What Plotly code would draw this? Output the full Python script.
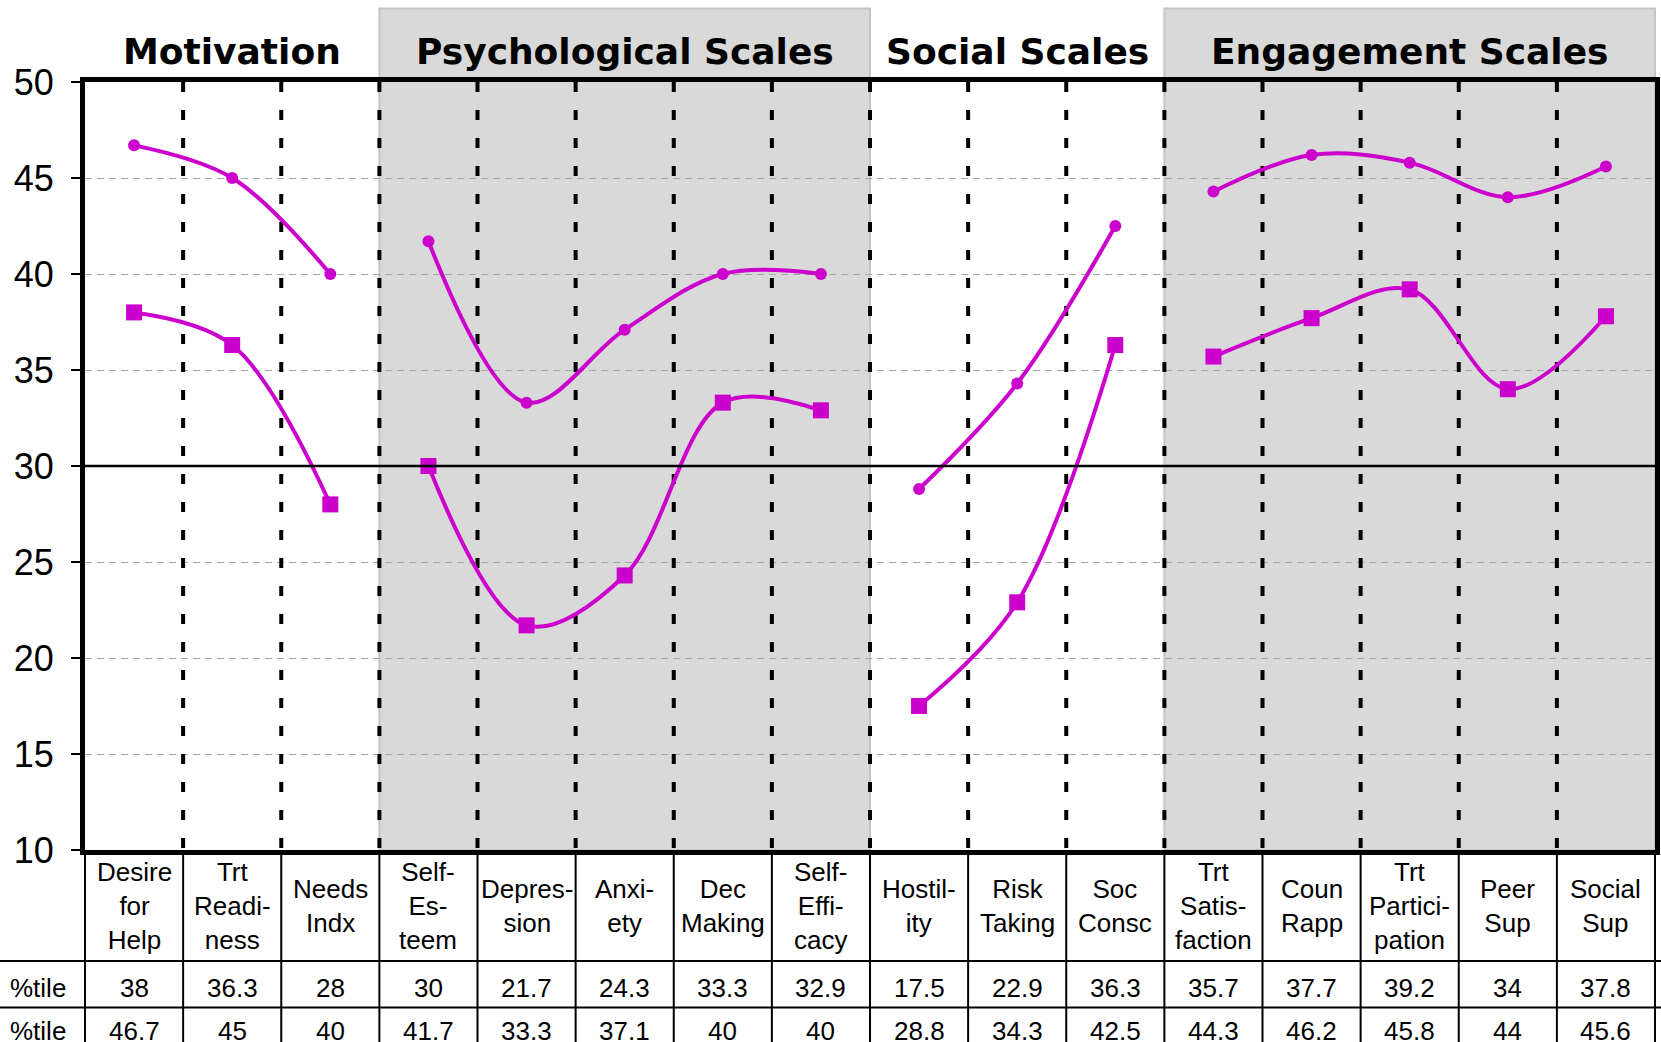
import plotly.graph_objects as go

# ---------------- data ----------------
categories = ["Desire for Help", "Trt Readiness", "Needs Indx", "Self-Esteem", "Depression",
              "Anxiety", "Dec Making", "Self-Efficacy", "Hostility", "Risk Taking", "Soc Consc",
              "Trt Satisfaction", "Coun Rapp", "Trt Participation", "Peer Sup", "Social Sup"]
header_labels = ["Desire<br>for<br>Help", "Trt<br>Readi-<br>ness", "Needs<br>Indx",
                 "Self-<br>Es-<br>teem", "Depres-<br>sion", "Anxi-<br>ety", "Dec<br>Making",
                 "Self-<br>Effi-<br>cacy", "Hostil-<br>ity", "Risk<br>Taking", "Soc<br>Consc",
                 "Trt<br>Satis-<br>faction", "Coun<br>Rapp", "Trt<br>Partici-<br>pation",
                 "Peer<br>Sup", "Social<br>Sup"]
low_vals = [38, 36.3, 28, 30, 21.7, 24.3, 33.3, 32.9, 17.5, 22.9, 36.3, 35.7, 37.7, 39.2, 34, 37.8]
high_vals = [46.7, 45, 40, 41.7, 33.3, 37.1, 40, 40, 28.8, 34.3, 42.5, 44.3, 46.2, 45.8, 44, 45.6]
groups = ["Motivation", "Psychological Scales", "Social Scales", "Engagement Scales"]
group_sizes = [3, 5, 3, 5]
group_shaded = [False, True, False, True]
row_labels = ["%tile", "%tile"]
y_ticks = [10, 15, 20, 25, 30, 35, 40, 45, 50]

# ---------------- layout geometry ----------------
W, H = 1661, 1042
ML, MR, MT, MB = 85, 6, 82, 192
PW, PH = W - ML - MR, H - MT - MB
N = len(categories)
XR = [0.5, N + 0.5]
MAG = "#CC00CC"
TFONT = "Liberation Sans, Arial, sans-serif"


def py(ypix):
    return (H - MB - ypix) / PH


def pxp(xpix):
    return (xpix - ML) / PW


def xv2p(v):
    return (v - XR[0]) / (XR[1] - XR[0])


xs = list(range(1, N + 1))


def with_gaps(vals):
    gx, gy = [], []
    start = 0
    for k, size in enumerate(group_sizes):
        if k > 0:
            gx.append(None)
            gy.append(None)
        gx += xs[start:start + size]
        gy += vals[start:start + size]
        start += size
    return gx, gy


fig = go.Figure()
lx, ly = with_gaps(low_vals)
hx, hy = with_gaps(high_vals)
fig.add_trace(go.Scatter(x=lx, y=ly, mode="lines+markers", connectgaps=False,
                         line=dict(color=MAG, width=4, shape="spline", smoothing=1.0),
                         marker=dict(symbol="square", size=16, color=MAG), showlegend=False))
fig.add_trace(go.Scatter(x=hx, y=hy, mode="lines+markers", connectgaps=False,
                         line=dict(color=MAG, width=4, shape="spline", smoothing=1.0),
                         marker=dict(symbol="circle", size=12, color=MAG), showlegend=False))

shapes = []
annotations = []

# group shading + titles
start = 1
for name, size, sh in zip(groups, group_sizes, group_shaded):
    end = start + size - 1
    if sh:
        shapes.append(dict(type="rect", xref="paper", yref="paper",
                           x0=xv2p(start - 0.5), x1=xv2p(end + 0.5), y0=0, y1=py(8.5),
                           fillcolor="#D9D9D9", line=dict(color="#C4C4C4", width=2), layer="below"))
    annotations.append(dict(text="<b>" + name + "</b>", xref="x", yref="paper",
                            x=(start + end) / 2, y=py(51), showarrow=False,
                            xanchor="center", yanchor="middle",
                            font=dict(family="DejaVu Sans, Verdana, sans-serif", size=36, color="black")))
    start = end + 1

# dotted vertical separators
for i in range(1, N):
    shapes.append(dict(type="line", xref="x", yref="y", x0=i + 0.5, x1=i + 0.5, y0=50, y1=10,
                       line=dict(color="black", width=4, dash="10px,18px"), layer="between"))

# solid reference line at 30
shapes.append(dict(type="line", xref="paper", yref="y", x0=0, x1=1, y0=30, y1=30,
                   line=dict(color="black", width=2.5), layer="above"))

# ---------------- table ----------------
row_tops = [961, 1007.5]
for yl in row_tops:
    shapes.append(dict(type="line", xref="paper", yref="paper", x0=pxp(0), x1=pxp(W),
                       y0=py(yl), y1=py(yl), line=dict(color="black", width=2)))
for i in range(N + 1):
    xp = xv2p(i + 0.5)
    shapes.append(dict(type="line", xref="paper", yref="paper", x0=xp, x1=xp,
                       y0=py(850), y1=py(H + 10), line=dict(color="black", width=2)))

for i, lab in enumerate(header_labels):
    annotations.append(dict(text=lab, xref="x", yref="paper", x=xs[i], y=py(906),
                            showarrow=False, xanchor="center", yanchor="middle", align="center",
                            font=dict(family=TFONT, size=26, color="black")))
row_centers = [988, 1031]
for vals, yc, rl in zip([low_vals, high_vals], row_centers, row_labels):
    annotations.append(dict(text=rl, xref="paper", yref="paper", x=pxp(8), y=py(yc),
                            showarrow=False, xanchor="left", yanchor="middle",
                            font=dict(family=TFONT, size=26, color="black")))
    for i, v in enumerate(vals):
        annotations.append(dict(text=f"{v:g}", xref="x", yref="paper", x=xs[i], y=py(yc),
                                showarrow=False, xanchor="center", yanchor="middle",
                                font=dict(family=TFONT, size=26, color="black")))

fig.update_layout(
    width=W, height=H,
    margin=dict(l=ML, r=MR, t=MT, b=MB, autoexpand=False),
    paper_bgcolor="white", plot_bgcolor="rgba(0,0,0,0)",
    shapes=shapes, annotations=annotations, showlegend=False,
    xaxis=dict(range=XR, showticklabels=False, showgrid=False, zeroline=False,
               showline=True, linewidth=5, linecolor="black", mirror=True, ticks=""),
    yaxis=dict(range=[10, 50], tickvals=y_ticks, ticktext=[str(t) for t in y_ticks],
               tickfont=dict(family=TFONT, size=36, color="black"),
               ticks="outside", ticklen=9, tickwidth=2, tickcolor="black",
               ticklabelstandoff=10,
               showline=True, linewidth=5, linecolor="black", mirror=True,
               showgrid=True, gridcolor="#A6A6A6", gridwidth=1, griddash="7px,5px",
               zeroline=False),
)

fig.write_html("out.html", config={"displayModeBar": False},
               post_script="document.body.style.margin='0';")
